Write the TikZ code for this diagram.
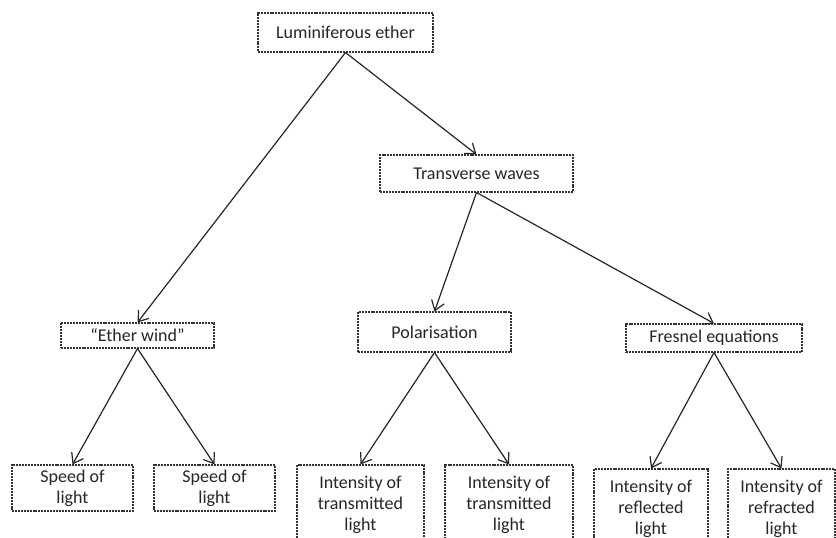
\documentclass[tikz,border=0pt]{standalone}
\usepackage{fontspec}
\setmainfont{Carlito}
\usetikzlibrary{arrows.meta}
\tikzstyle{concept}=[draw=black!80, line width=0.8pt, dash pattern=on 1.5pt off 0.7pt, fill=white,
    inner sep=0pt, align=center, font=\fontsize{13.5}{16}\selectfont, text=black!85]
\tikzstyle{edge}=[draw=black!85, line width=0.9pt, -{Straight Barb[length=7pt,width=10pt]}]

\begin{document}
\begin{tikzpicture}[x=0.75pt,y=-0.75pt]
    \useasboundingbox (0,0) rectangle (836,538);
    % Draw the boxes of the tree, top to bottom
    \foreach \pos/\name/\w/\h/\txt in {{(345.5,32.5)/ether/175/39/Luminiferous ether},
        {(476.5,173.5)/trans/193/37/Transverse waves},
        {(137.5,335.5)/wind/153/25/“Ether wind”},
        {(434.5,332)/polar/153/40/Polarisation},
        {(714,338)/fresnel/176/28/Fresnel equations},
        {(72.5,488)/speedA/121/46/Speed of\\light},
        {(214.5,488)/speedB/121/46/Speed of\\light},
        {(360.5,505)/transA/127/80/Intensity of\\transmitted\\light},
        {(509,505)/transB/128/80/Intensity of\\transmitted\\light},
        {(651,509)/refl/114/80/Intensity of\\reflected\\light},
        {(781.5,509)/refr/107/80/Intensity of\\refracted\\light}}
        \node[concept, minimum width=\w*0.75pt, minimum height=\h*0.75pt] (\name) at \pos {\txt};

    % Connect parents with children
    \foreach \source/\dest in {ether/wind, ether/trans, trans/polar, trans/fresnel,
        wind/speedA, wind/speedB, polar/transA, polar/transB, fresnel/refl, fresnel/refr}
        \path[edge] (\source.south) -- (\dest.north);
\end{tikzpicture}
\end{document}
